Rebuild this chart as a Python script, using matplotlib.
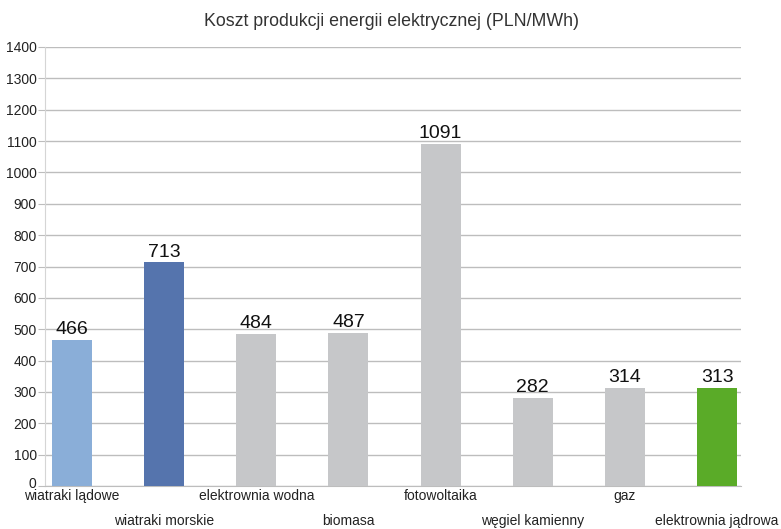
import matplotlib
matplotlib.use("Agg")
import matplotlib.pyplot as plt
import matplotlib.transforms as mtransforms
import numpy as np

categories = ["wiatraki lądowe", "wiatraki morskie", "elektrownia wodna", "biomasa",
              "fotowoltaika", "węgiel kamienny", "gaz", "elektrownia jądrowa"]
values = [466, 713, 484, 487, 1091, 282, 314, 313]
colors = ["#8aaed8", "#5574ad", "#c6c7c9", "#c6c7c9", "#c6c7c9", "#c6c7c9", "#c6c7c9", "#5aab28"]
yticks = list(range(0, 1401, 100))

plt.rcParams['font.family'] = ['Liberation Sans', 'DejaVu Sans']

fig = plt.figure(figsize=(7.81, 5.29), dpi=100)
ax_h = 486 - 47
ax = fig.add_axes([45/781, 1-486/529, (741-45)/781, ax_h/529])

x = np.arange(len(categories))
ax.bar(x, values, width=0.434, color=colors, zorder=3)
for xi, v in zip(x, values):
    ax.text(xi, v + 6, str(v), ha='center', va='bottom', fontsize=14, color='#111111', zorder=4)

ax.set_xlim(-0.293, 7.26)
ax.set_ylim(0, 1400)
ax.set_yticks(yticks)
ax.set_yticklabels([str(t) for t in yticks], fontsize=10, color='#222222')
ax.yaxis.grid(True, color='#bdbdbd', linewidth=1, zorder=0)
ax.tick_params(axis='y', length=5, color='#bdbdbd', pad=1)
# the "0" label sits slightly above its gridline in the reference
zero_lbl = ax.get_yticklabels()[0]
zero_lbl.set_transform(zero_lbl.get_transform() + mtransforms.ScaledTranslation(0, 3/100, fig.dpi_scale_trans))

ax.set_xticks(x)
ax.set_xticklabels([])
ax.tick_params(axis='x', length=0)
ax.set_xticks(x[::2], minor=True)
ax.tick_params(axis='x', which='minor', length=4, color='#bdbdbd')

trans = mtransforms.blended_transform_factory(ax.transData, ax.transAxes)
for i, c in enumerate(categories):
    ypix = 10 if i % 2 == 0 else 35
    ax.text(x[i], -ypix/ax_h, c, transform=trans, ha='center', va='center',
            fontsize=10, color='#222222', clip_on=False)

for s in ['top', 'right']:
    ax.spines[s].set_visible(False)
ax.spines['left'].set_color('#d5d5d5')
ax.spines['bottom'].set_color('#bdbdbd')

fig.text(392/781, 1-22/529, "Koszt produkcji energii elektrycznej (PLN/MWh)", ha='center', va='center',
         fontsize=12.8, color='#333333')

fig.savefig("out.png", dpi=100)
